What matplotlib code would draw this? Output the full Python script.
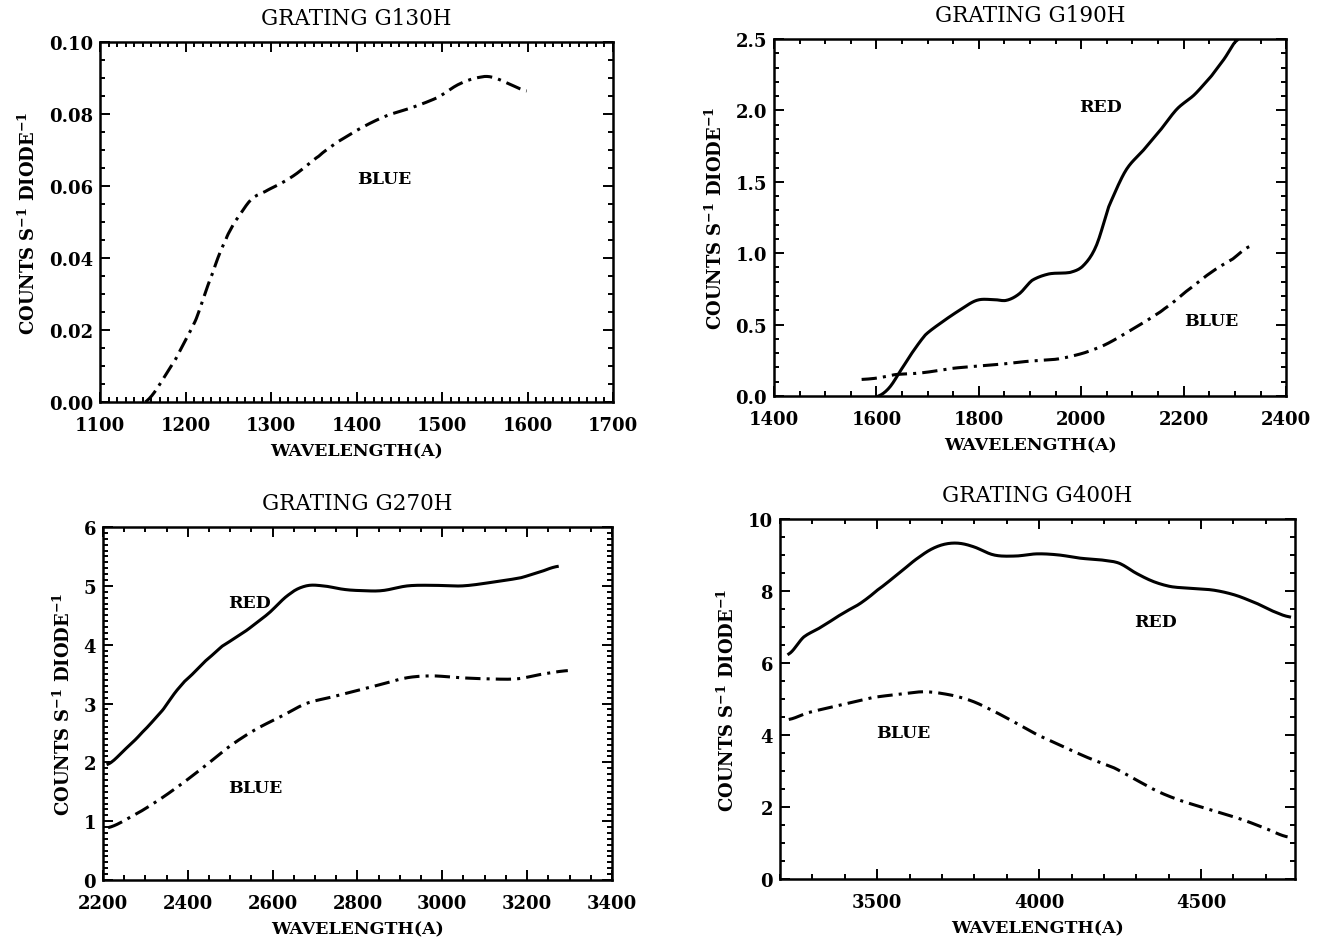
import numpy as np
import matplotlib
matplotlib.use("Agg")
import matplotlib.pyplot as plt
from matplotlib.ticker import MultipleLocator, FormatStrFormatter

plt.rcParams['font.family'] = ['DejaVu Serif']
plt.rcParams['mathtext.fontset'] = 'dejavuserif'

# G130H (blue detector only)
g130_blue_wl = [1153, 1188, 1212, 1232, 1247, 1257, 1277, 1297, 1326, 1356, 1376, 1406,
                1435, 1465, 1495, 1520, 1544, 1559, 1579, 1599]
g130_blue = [0.0, 0.0117, 0.0228, 0.036, 0.045, 0.0499, 0.0563, 0.059, 0.0628, 0.0683,
             0.072, 0.0762, 0.0795, 0.0818, 0.0846, 0.0883, 0.0902, 0.0902, 0.0883, 0.0864]

# G190H
g190_red_wl = [1604, 1625, 1646, 1671, 1696, 1729, 1762, 1796, 1829, 1854, 1879, 1904, 1937,
               1979, 2004, 2029, 2054, 2087, 2121, 2154, 2187, 2221, 2254, 2279, 2304]
g190_red = [0.0, 0.058, 0.173, 0.31, 0.43, 0.52, 0.60, 0.67, 0.675, 0.67, 0.716, 0.81, 0.855,
            0.866, 0.913, 1.05, 1.33, 1.58, 1.72, 1.86, 2.01, 2.11, 2.24, 2.36, 2.49]
g190_blue_wl = [1571, 1604, 1637, 1687, 1754, 1837, 1896, 1954, 2004, 2046, 2087, 2129, 2162,
                2204, 2254, 2296, 2329]
g190_blue = [0.116, 0.127, 0.15, 0.162, 0.196, 0.22, 0.243, 0.259, 0.30, 0.358, 0.44, 0.53,
             0.61, 0.73, 0.866, 0.96, 1.047]

# G270H
g270_red_wl = [2212, 2252, 2291, 2341, 2381, 2411, 2441, 2480, 2540, 2590, 2640, 2679, 2719,
               2769, 2808, 2858, 2918, 2977, 3047, 3116, 3186, 3236, 3271]
g270_red = [1.97, 2.22, 2.5, 2.89, 3.28, 3.5, 3.72, 3.97, 4.25, 4.53, 4.86, 5.0, 5.0, 4.94,
            4.92, 4.92, 5.0, 5.01, 5.0, 5.06, 5.14, 5.25, 5.33]
g270_blue_wl = [2212, 2262, 2321, 2381, 2441, 2500, 2560, 2620, 2679, 2739, 2799, 2858, 2918,
                2977, 3037, 3107, 3176, 3236, 3296]
g270_blue = [0.89, 1.06, 1.31, 1.61, 1.94, 2.28, 2.56, 2.78, 3.0, 3.11, 3.22, 3.33, 3.44,
             3.47, 3.44, 3.42, 3.42, 3.5, 3.56]

# G400H
g400_red_wl = [3227, 3273, 3327, 3393, 3447, 3500, 3567, 3633, 3687, 3740, 3793, 3860, 3927,
               3993, 4060, 4127, 4193, 4247, 4300, 4353, 4407, 4473, 4540, 4607, 4673, 4727, 4773]
g400_red = [6.25, 6.72, 7.0, 7.37, 7.65, 8.02, 8.49, 8.96, 9.24, 9.33, 9.24, 9.0, 8.97, 9.03,
            9.0, 8.91, 8.86, 8.77, 8.49, 8.26, 8.12, 8.07, 8.02, 7.88, 7.65, 7.42, 7.28]
g400_blue_wl = [3227, 3287, 3353, 3420, 3487, 3567, 3647, 3727, 3793, 3860, 3927, 3993, 4073,
                4153, 4233, 4300, 4367, 4433, 4500, 4567, 4633, 4700, 4767]
g400_blue = [4.43, 4.62, 4.76, 4.9, 5.04, 5.13, 5.2, 5.11, 4.94, 4.66, 4.34, 4.01, 3.68, 3.36,
             3.08, 2.75, 2.43, 2.19, 2.0, 1.82, 1.63, 1.4, 1.17]

DASHDOT = (0, (5, 2, 1, 2))
YLABEL = r'COUNTS S$^{\mathbf{-1}}$ DIODE$^{\mathbf{-1}}$'


def smooth(x, y, n=300):
    # Catmull-Rom curve through the tabulated points
    x = np.asarray(x, float)
    y = np.asarray(y, float)
    xs = np.linspace(x[0], x[-1], n)
    out = np.empty_like(xs)
    for k, xv in enumerate(xs):
        i = min(max(np.searchsorted(x, xv) - 1, 0), len(x) - 2)
        x0, x1 = x[i], x[i + 1]
        t = (xv - x0) / (x1 - x0)
        p0 = y[i - 1] if i > 0 else y[i]
        p3 = y[i + 2] if i + 2 < len(y) else y[i + 1]
        p1, p2 = y[i], y[i + 1]
        out[k] = 0.5 * ((2 * p1) + (-p0 + p2) * t + (2 * p0 - 5 * p1 + 4 * p2 - p3) * t ** 2
                        + (-p0 + 3 * p1 - 3 * p2 + p3) * t ** 3)
    return xs, out


def style_axes(ax, title, xlim, ylim, xmaj, xmin, ymaj, ymin, yfmt):
    ax.set_xlim(*xlim)
    ax.set_ylim(*ylim)
    ax.xaxis.set_major_locator(MultipleLocator(xmaj))
    ax.xaxis.set_minor_locator(MultipleLocator(xmin))
    ax.yaxis.set_major_locator(MultipleLocator(ymaj))
    ax.yaxis.set_minor_locator(MultipleLocator(ymin))
    ax.yaxis.set_major_formatter(FormatStrFormatter(yfmt))
    ax.tick_params(which='both', direction='in', top=True, right=True, width=1.4)
    ax.tick_params(which='major', length=7, labelsize=13)
    ax.tick_params(which='minor', length=3.5)
    ax.tick_params(axis='x', which='major', pad=10)
    ax.tick_params(axis='y', which='major', pad=5)
    for lab in ax.get_xticklabels() + ax.get_yticklabels():
        lab.set_fontweight('bold')
    for s in ax.spines.values():
        s.set_linewidth(1.8)
    ax.set_title(title, fontsize=15.5, pad=13)
    ax.set_xlabel('WAVELENGTH(A)', fontsize=12.5, fontweight='bold', labelpad=6)
    ax.set_ylabel(YLABEL, fontsize=13, fontweight='bold', labelpad=7)


def tag(ax, x, y, s):
    ax.text(x, y, s, fontsize=12.5, fontweight='bold', ha='center', va='center')


fig = plt.figure(figsize=(13.3, 9.45), dpi=100)
ax1 = fig.add_axes([0.0752, 0.5735, 0.3857, 0.381])
ax2 = fig.add_axes([0.5820, 0.5799, 0.3850, 0.3778])
ax3 = fig.add_axes([0.0774, 0.0677, 0.3827, 0.3735])
ax4 = fig.add_axes([0.5865, 0.0688, 0.3872, 0.381])

lw = 2.2
ax1.plot(*smooth(g130_blue_wl, g130_blue), color='black', lw=lw, ls=DASHDOT)
style_axes(ax1, 'GRATING G130H', (1100, 1700), (0, 0.10), 100, 10, 0.02, 0.005, '%.2f')
tag(ax1, 1433, 0.062, 'BLUE')

ax2.plot(*smooth(g190_red_wl, g190_red), color='black', lw=lw)
ax2.plot(*smooth(g190_blue_wl, g190_blue), color='black', lw=lw, ls=DASHDOT)
style_axes(ax2, 'GRATING G190H', (1400, 2400), (0, 2.5), 200, 50, 0.5, 0.1, '%.1f')
tag(ax2, 2037, 2.03, 'RED')
tag(ax2, 2254, 0.53, 'BLUE')

ax3.plot(*smooth(g270_red_wl, g270_red), color='black', lw=lw)
ax3.plot(*smooth(g270_blue_wl, g270_blue), color='black', lw=lw, ls=DASHDOT)
style_axes(ax3, 'GRATING G270H', (2200, 3400), (0, 6), 200, 50, 1, 0.1, '%d')
tag(ax3, 2545, 4.71, 'RED')
tag(ax3, 2560, 1.58, 'BLUE')

ax4.plot(*smooth(g400_red_wl, g400_red), color='black', lw=lw)
ax4.plot(*smooth(g400_blue_wl, g400_blue), color='black', lw=lw, ls=DASHDOT)
style_axes(ax4, 'GRATING G400H', (3200, 4790), (0, 10), 500, 100, 2, 0.5, '%d')
tag(ax4, 4360, 7.14, 'RED')
tag(ax4, 3580, 4.06, 'BLUE')

fig.savefig('out.png', dpi=100, facecolor='white')
